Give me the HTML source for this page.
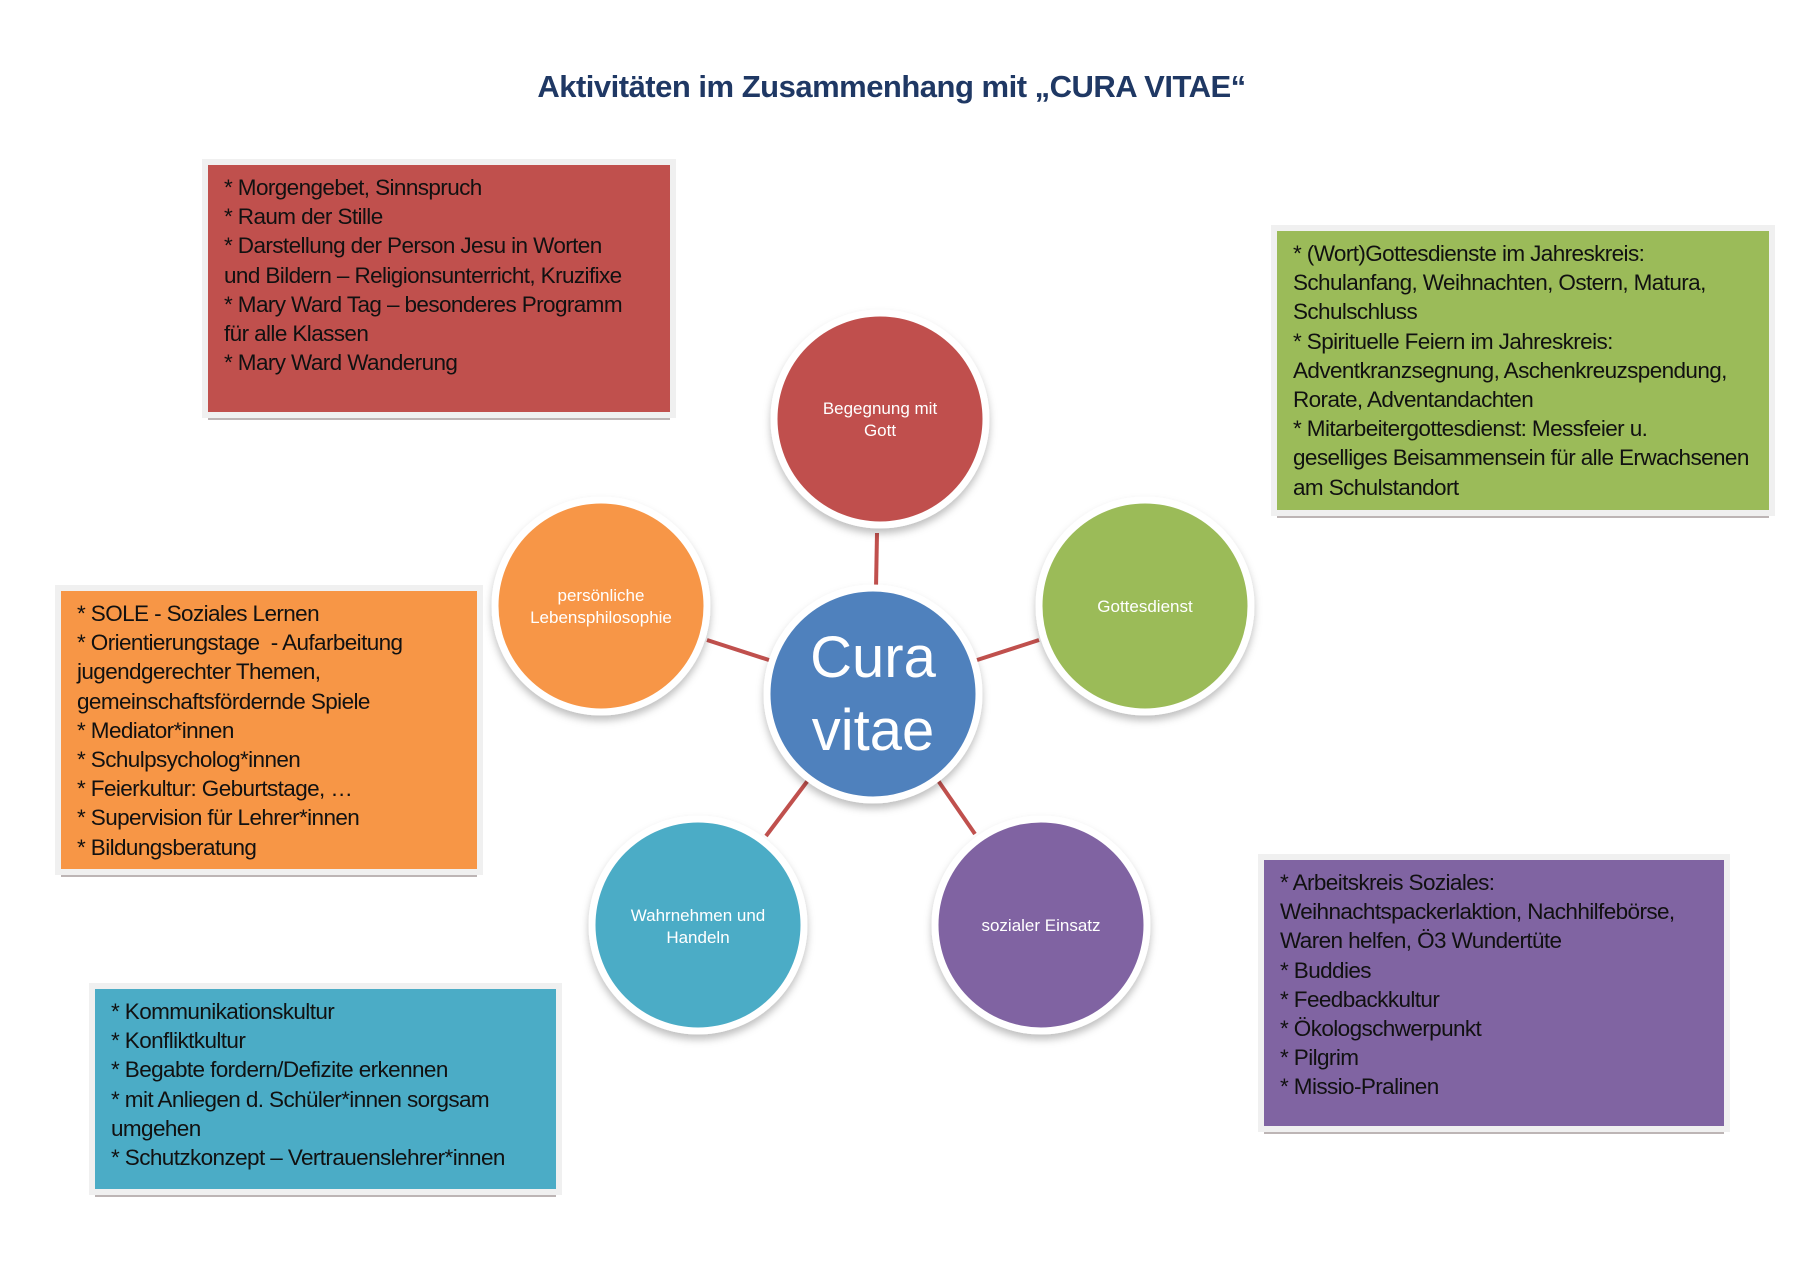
<!DOCTYPE html>
<html><head><meta charset="utf-8"><style>
body{margin:0;width:1801px;height:1269px;background:#fff;position:relative;overflow:hidden;font-family:"Liberation Sans",sans-serif}
.t{position:absolute;left:0;width:1783px;top:69px;text-align:center;font-weight:bold;font-size:31px;color:#1f3864;letter-spacing:-0.5px}
.b{position:absolute;box-sizing:border-box;padding:8px 16px;font-size:22.5px;line-height:29.2px;color:#111;letter-spacing:-0.6px;white-space:nowrap;outline:6px solid #f0f0f0;box-shadow:0 8px 0 0 #bdb5b5}
svg{position:absolute;left:0;top:0}
</style></head><body>
<div class="t">Aktivitäten im Zusammenhang mit „CURA VITAE“</div>
<svg width="1801" height="1269">
<defs><filter id="s" x="-20%" y="-20%" width="140%" height="140%"><feDropShadow dx="0" dy="5" stdDeviation="4" flood-color="#000" flood-opacity="0.25"/></filter></defs>
<g transform="translate(-4,-2)">
<g stroke="#c0504d" stroke-width="4">
<line x1="880" y1="590" x2="881" y2="535"/>
<line x1="978" y1="663" x2="1043" y2="642"/>
<line x1="776" y1="663" x2="711" y2="642"/>
<line x1="813" y1="781" x2="770" y2="838"/>
<line x1="941" y1="781" x2="979" y2="836"/>
</g>
<g stroke="#fff" stroke-width="7" filter="url(#s)">
<circle cx="884" cy="421" r="106" fill="#c0504d"/>
<circle cx="1149" cy="608" r="106" fill="#9bbb59"/>
<circle cx="605" cy="608" r="106" fill="#f79646"/>
<circle cx="702" cy="927" r="106" fill="#4bacc6"/>
<circle cx="1045" cy="927" r="106" fill="#8064a2"/>
</g>
<circle cx="877" cy="696" r="106" fill="#4f81bd" stroke="#fff" stroke-width="7" filter="url(#s)"/>
<g fill="#fff" font-family="Liberation Sans,sans-serif" font-size="17" text-anchor="middle">
<text x="884" y="416">Begegnung mit</text><text x="884" y="438">Gott</text>
<text x="1149" y="614">Gottesdienst</text>
<text x="605" y="603">persönliche</text><text x="605" y="625">Lebensphilosophie</text>
<text x="702" y="923">Wahrnehmen und</text><text x="702" y="945">Handeln</text>
<text x="1045" y="933">sozialer Einsatz</text>
<text x="877" y="679" font-size="58">Cura</text><text x="877" y="752" font-size="58">vitae</text>
</g>
</g>
</svg>
<div class="b" style="left:208px;top:165px;width:462px;height:247px;background:#c0504d">* Morgengebet, Sinnspruch<br>* Raum der Stille<br>* Darstellung der Person Jesu in Worten<br>und Bildern – Religionsunterricht, Kruzifixe<br>* Mary Ward Tag – besonderes Programm<br>für alle Klassen<br>* Mary Ward Wanderung</div>
<div class="b" style="left:1277px;top:231px;width:492px;height:279px;background:#9bbb59">* (Wort)Gottesdienste im Jahreskreis:<br>Schulanfang, Weihnachten, Ostern, Matura,<br>Schulschluss<br>* Spirituelle Feiern im Jahreskreis:<br>Adventkranzsegnung, Aschenkreuzspendung,<br>Rorate, Adventandachten<br>* Mitarbeitergottesdienst: Messfeier u.<br>geselliges Beisammensein für alle Erwachsenen<br>am Schulstandort</div>
<div class="b" style="left:61px;top:591px;width:416px;height:278px;background:#f79646">* SOLE - Soziales Lernen<br>* Orientierungstage &nbsp;- Aufarbeitung<br>jugendgerechter Themen,<br>gemeinschaftsfördernde Spiele<br>* Mediator*innen<br>* Schulpsycholog*innen<br>* Feierkultur: Geburtstage, …<br>* Supervision für Lehrer*innen<br>* Bildungsberatung</div>
<div class="b" style="left:95px;top:989px;width:461px;height:200px;background:#4bacc6">* Kommunikationskultur<br>* Konfliktkultur<br>* Begabte fordern/Defizite erkennen<br>* mit Anliegen d. Schüler*innen sorgsam<br>umgehen<br>* Schutzkonzept – Vertrauenslehrer*innen</div>
<div class="b" style="left:1264px;top:860px;width:460px;height:266px;background:#8064a2">* Arbeitskreis Soziales:<br>Weihnachtspackerlaktion, Nachhilfebörse,<br>Waren helfen, Ö3 Wundertüte<br>* Buddies<br>* Feedbackkultur<br>* Ökologschwerpunkt<br>* Pilgrim<br>* Missio-Pralinen</div>
</body></html>
